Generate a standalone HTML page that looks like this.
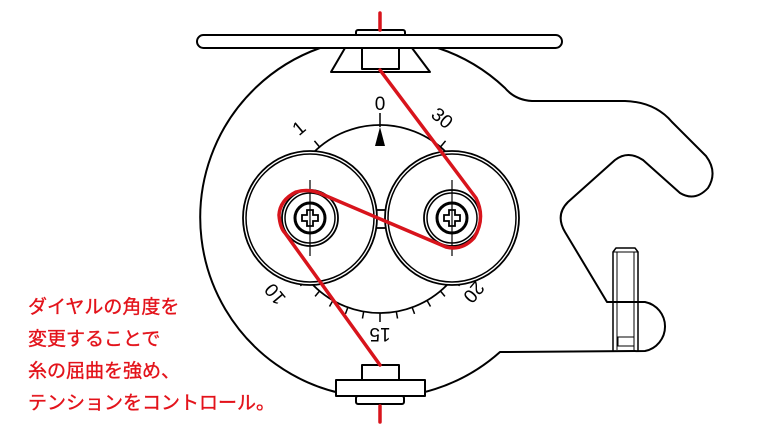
<!DOCTYPE html>
<html><head><meta charset="utf-8"><style>
html,body{margin:0;padding:0;background:#fff;}
svg{display:block;}
.t{font-family:"Liberation Sans","Noto Sans CJK JP",sans-serif;font-size:19px;fill:#e3131b;stroke:#e3131b;stroke-width:0.35;}
.n{font-family:"Liberation Sans",sans-serif;font-size:19px;fill:#000;}
</style></head><body>
<svg width="770" height="440" viewBox="0 0 770 440" xmlns="http://www.w3.org/2000/svg">
<g fill="none" stroke="#000" stroke-width="2" stroke-linejoin="round">
<path d="M320,48 A180,180 0 1 0 500,352 L645,351 A25,25 0 0 0 645,302 L607,302 L565,232 Q555,215 568,202 L615,160 Q628,150 643,160 L680,193 Q695,202 708,188 Q718,172 706,156 L672,122 Q655,102 625,101 L532,101 Q515,100 505,88 A180,180 0 0 0 438,48"/>
<circle cx="380" cy="219" r="94" stroke-width="1.8"/>
</g>
<g stroke="#000" stroke-width="1.5">
<line x1="474" y1="219" x2="484" y2="219" transform="rotate(40 380 219)"/>
<line x1="474" y1="219" x2="481" y2="219" transform="rotate(50 380 219)"/>
<line x1="474" y1="219" x2="481" y2="219" transform="rotate(60 380 219)"/>
<line x1="474" y1="219" x2="481" y2="219" transform="rotate(70 380 219)"/>
<line x1="474" y1="219" x2="481" y2="219" transform="rotate(80 380 219)"/>
<line x1="474" y1="219" x2="483" y2="219" transform="rotate(90 380 219)"/>
<line x1="474" y1="219" x2="481" y2="219" transform="rotate(100 380 219)"/>
<line x1="474" y1="219" x2="481" y2="219" transform="rotate(110 380 219)"/>
<line x1="474" y1="219" x2="481" y2="219" transform="rotate(120 380 219)"/>
<line x1="474" y1="219" x2="481" y2="219" transform="rotate(130 380 219)"/>
<line x1="474" y1="219" x2="484" y2="219" transform="rotate(140 380 219)"/>
<line x1="474" y1="219" x2="482" y2="219" transform="rotate(230 380 219)"/>
<line x1="474" y1="219" x2="482" y2="219" transform="rotate(310 380 219)"/>
<line x1="380" y1="113" x2="380" y2="127"/>
</g>
<polygon points="380,127 375,146 385,146" fill="#000"/>
<text class="n" x="380" y="110" text-anchor="middle">0</text>
<text class="n" text-anchor="middle" transform="translate(438,123) rotate(40)">30</text>
<text class="n" text-anchor="middle" transform="translate(303,133) rotate(-40)">1</text>
<text class="n" text-anchor="middle" transform="translate(280,290) rotate(230)">10</text>
<text class="n" text-anchor="middle" transform="translate(380,328) rotate(180)">15</text>
<text class="n" text-anchor="middle" transform="translate(469,288) rotate(130)">20</text>
<g fill="#fff" stroke="#000" stroke-width="1.8">
<rect x="376" y="210" width="10" height="18"/>
<circle cx="310" cy="218" r="67"/>
<circle cx="310" cy="218" r="64" fill="none" stroke-width="1.5"/>
<circle cx="452" cy="218" r="67"/>
<circle cx="452" cy="218" r="64" fill="none" stroke-width="1.5"/>
<circle cx="310" cy="218" r="28"/>
<circle cx="310" cy="218" r="25" fill="none" stroke-width="1.5"/>
<circle cx="452" cy="218" r="28"/>
<circle cx="452" cy="218" r="25" fill="none" stroke-width="1.5"/>
<circle cx="310" cy="218" r="15" stroke-width="3"/>
<circle cx="452" cy="218" r="15" stroke-width="3"/>
</g>
<g stroke="#000" stroke-width="1.2" fill="none">
<line x1="310" y1="180" x2="310" y2="256"/>
<line x1="452" y1="180" x2="452" y2="256"/>
<path d="M307,210 L313,210 L313,215 L318,215 L318,221 L313,221 L313,226 L307,226 L307,221 L302,221 L302,215 L307,215 Z" stroke-width="1.8"/>
<path d="M449,210 L455,210 L455,215 L460,215 L460,221 L455,221 L455,226 L449,226 L449,221 L444,221 L444,215 L449,215 Z" stroke-width="1.8"/>
</g>
<g fill="#fff" stroke="#000" stroke-width="2" stroke-linejoin="round">
<rect x="356" y="30" width="49" height="8" rx="2"/>
<rect x="197" y="35" width="365" height="13" rx="6.5"/>
<polygon points="345,48 412,48 430,72 331,72"/>
<rect x="362" y="48" width="37" height="21"/>
<rect x="356" y="396" width="48" height="8" rx="2"/>
<rect x="336" y="380" width="89" height="16"/>
<rect x="362" y="365" width="37" height="15"/>
<path d="M613,352 L613,252 L616,248 L635,248 L638,252 L638,352" fill="none" stroke-width="1.5"/>
</g>
<g stroke="#000" stroke-width="1" fill="none">
<line x1="617" y1="252" x2="617" y2="350"/>
<line x1="634" y1="252" x2="634" y2="350"/>
<line x1="613" y1="252" x2="638" y2="252"/>
<rect x="618" y="337" width="16" height="9"/>
</g>
<g stroke="#d8141c" stroke-width="3.5" fill="none" stroke-linecap="round" stroke-linejoin="round">
<line x1="380" y1="13" x2="380" y2="30"/>
<line x1="380" y1="406" x2="380" y2="422"/>
<path d="M380,70 L476,198 Q486,218 474,238 Q462,251 446,247 L324,195 Q310,188 296,192 Q280,200 279,215 Q280,228 285,233 L380,365"/>
</g>
<text class="t" x="28" y="313">ダイヤルの角度を</text>
<text class="t" x="28" y="345">変更することで</text>
<text class="t" x="28" y="377">糸の屈曲を強め、</text>
<text class="t" x="28" y="409">テンションをコントロール。</text>
</svg>
</body></html>
